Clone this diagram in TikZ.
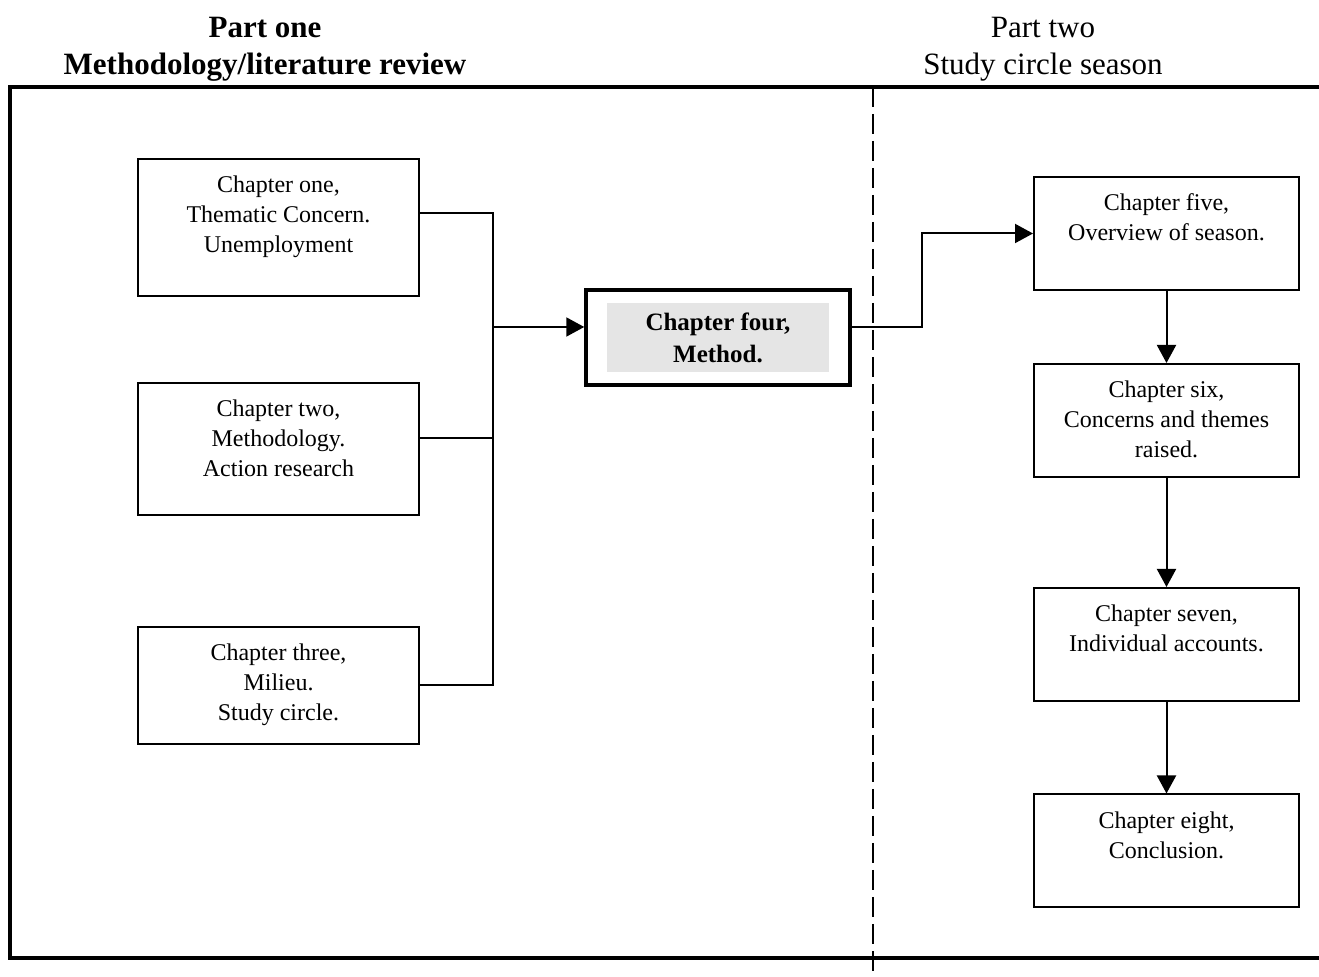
\documentclass[tikz,border=0pt]{standalone}
\usepackage{fontspec}
\setmainfont{Liberation Serif}
\usetikzlibrary{arrows.meta,positioning}
\setlength{\fboxsep}{0pt}

% box text, kept at the top of a box of fixed size
\newcommand{\chaptext}[3]{\parbox[c][#2][t]{#1}{\centering\rule{0pt}{17pt}#3}}

\begin{document}
\begin{tikzpicture}[x=0.5pt,y=-0.5pt,
		chap/.style={draw, line width=1pt, inner sep=0pt, font=\fontsize{12}{15}\selectfont},
		head/.style={align=center, anchor=base, font=\fontsize{15.5}{18.5}\selectfont},
		headbold/.style={head, font=\fontsize{15.5}{18.5}\selectfont\bfseries},
		link/.style={line width=1pt},
		>={Triangle[length=9pt,width=9.5pt]}]
	\useasboundingbox (0,0) rectangle (1319,977);
	% frame and the split between the two parts
	\draw[line width=1pt, dash pattern=on 10pt off 3.5pt] (873,87) -- (873,977);
	\draw[line width=2pt] (1319,87) -- (10,87) -- (10,958) -- (1319,958);
	\node[headbold] (partone) at (265,75) {Part one\\Methodology/literature review};
	\node[head] (parttwo) at (1043,75) {Part two\\Study circle season};
	% part one
	\node[chap, line width=0.6pt] (c1) at (278.5,227.5) {\chaptext{140.5pt}{68.5pt}{Chapter one,\\Thematic Concern.\\Unemployment}};
	\node[chap] (c2) at (278.5,449) {\chaptext{140.5pt}{66pt}{Chapter two,\\Methodology.\\Action research}};
	\node[chap] (c3) at (278.5,685.5) {\chaptext{140.5pt}{58.5pt}{Chapter three,\\Milieu.\\Study circle.}};
	\node[draw, line width=1.75pt, inner xsep=10.5pt, inner ysep=6.5pt] (c4) at (718,337.5)
		{\colorbox{gray!20}{\parbox[c][34.5pt][c]{111pt}{\centering\fontsize{12.5}{16}\selectfont\bfseries Chapter four,\\Method.}}};
	% part two
	\node[chap] (c5) at (1166.5,233.5) {\chaptext{132.5pt}{56.5pt}{Chapter five,\\Overview of season.}};
	\node[chap] (c6) at (1166.5,420.5) {\chaptext{132.5pt}{56.5pt}{Chapter six,\\Concerns and themes\\raised.}};
	\node[chap] (c7) at (1166.5,644.5) {\chaptext{132.5pt}{56.5pt}{Chapter seven,\\Individual accounts.}};
	\node[chap] (c8) at (1166.5,851) {\chaptext{132.5pt}{56.5pt}{Chapter eight,\\Conclusion.}};
	% connectors
	\coordinate (bus) at (493,327);
	\coordinate (jog) at (922,280);
	\draw[link] ([yshift=7.25pt]c1.east) -| (bus);
	\draw[link] ([yshift=5.5pt]c2.east) -- ([yshift=5.5pt]c2.east -| bus);
	\draw[link] (c3.east) -| (bus);
	\draw[link,->] (bus) -- ([yshift=5.25pt]c4.west);
	\draw[link,->] ([yshift=5.25pt]c4.east) -| (jog) |- (c5.west);
	\draw[link,->] (c5.south) -- (c6.north);
	\draw[link,->] (c6.south) -- (c7.north);
	\draw[link,->] (c7.south) -- (c8.north);
\end{tikzpicture}
\end{document}
